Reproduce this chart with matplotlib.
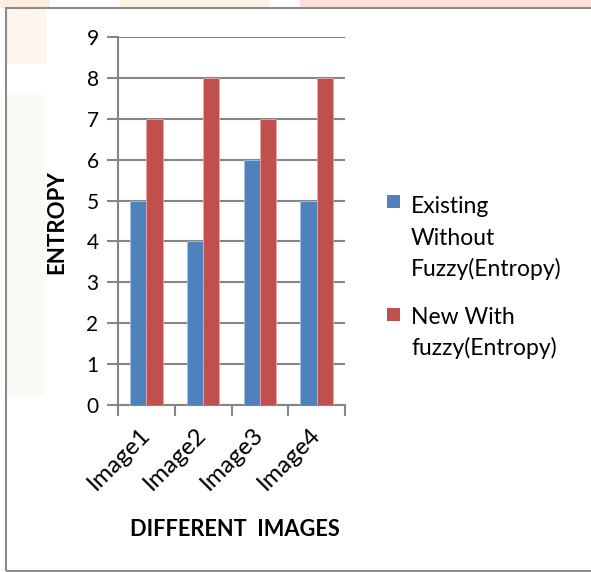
import matplotlib
matplotlib.use("Agg")
import matplotlib.pyplot as plt
from matplotlib.patches import Rectangle
import numpy as np

plt.rcParams['font.family'] = ['Lato', 'DejaVu Sans']

categories = ["Image1", "Image2", "Image3", "Image4"]
existing = [5, 4, 6, 5]
new_fuzzy = [7, 8, 7, 8]
series_lines = [["Existing", "Without", "Fuzzy(Entropy)"], ["New With", "fuzzy(Entropy)"]]
colors = ["#4F81BD", "#C0504D"]
yticks = list(range(0, 10))

fig = plt.figure(figsize=(5.91, 5.72), dpi=100)
W, H = 591, 572

def fx(px):
    return px / W

def fy(py):
    return 1 - py / H

# faint watermark tints
tints = [
    (0, 0, 50, 8, "#fdeede"),
    (120, 0, 150, 8, "#fef2e6"),
    (300, 0, 291, 8, "#fde0da"),
    (7, 9, 40, 55, "#fef6ee"),
    (7, 95, 38, 300, "#f8fbf3"),
]
for x0, y0, w, h, c in tints:
    fig.patches.append(Rectangle((fx(x0), fy(y0 + h)), w / W, h / H,
                                 transform=fig.transFigure, color=c, zorder=0, lw=0))

# frame
fig.patches.append(Rectangle((fx(6), fy(571)), (W + 10 - 6) / W, (571 - 8) / H,
                             transform=fig.transFigure, fill=False,
                             edgecolor="#8c8c8c", lw=1.5, zorder=1))

ax = fig.add_axes([fx(118), fy(405), (345 - 118) / W, (405 - 37) / H])
ax.patch.set_alpha(0)

x = np.arange(len(categories))
bw = 0.285
ax.bar(x - bw / 2, existing, bw, color=colors[0], edgecolor="#a9c0e0", lw=0.6, zorder=3)
ax.bar(x + bw / 2, new_fuzzy, bw, color=colors[1], edgecolor="#e6aaa8", lw=0.6, zorder=3)

ax.set_xlim(-0.5, len(categories) - 0.5)
ax.set_ylim(0, 9)
ax.set_yticks(yticks)
ax.set_yticklabels([str(v) for v in yticks], fontsize=15)
ax.yaxis.grid(True, color="#868686", lw=1.5, zorder=0)
ax.set_axisbelow(True)

ax.set_xticks(np.arange(len(categories) + 1) - 0.5, minor=False)
ax.set_xticklabels([])
ax.set_xticks(x, minor=True)
ax.set_xticklabels(categories, minor=True, rotation=45, ha="right",
                   va="center", rotation_mode="anchor", fontsize=17.5)
ax.tick_params(axis="x", which="minor", length=0, pad=19)
ax.tick_params(axis="x", which="major", length=8, width=1.5, color="#868686", direction="out")
ax.tick_params(axis="y", length=8, width=1.5, color="#868686", direction="out", pad=6)

for s in ["top", "right"]:
    ax.spines[s].set_visible(False)
for s in ["left", "bottom"]:
    ax.spines[s].set_color("#868686")
    ax.spines[s].set_linewidth(1.5)

fig.text(fx(57), fy(222), "ENTROPY", rotation=90, ha="center", va="center",
         fontsize=16, fontweight="bold")
fig.text(fx(235), fy(530), "DIFFERENT  IMAGES", ha="center", va="center",
         fontsize=15.7, fontweight="bold")

# legend (manual)
leg_square_tops = [195, 308]
leg_baselines = [[213, 244.5, 276], [324, 355]]
for i in range(2):
    fig.patches.append(Rectangle((fx(387), fy(leg_square_tops[i] + 13)), 13 / W, 13 / H,
                                 transform=fig.transFigure, color=colors[i], zorder=2, lw=0))
    for line, b in zip(series_lines[i], leg_baselines[i]):
        fig.text(fx(411), fy(b), line, ha="left", va="baseline", fontsize=16.5)

fig.savefig("out.png", dpi=100)
